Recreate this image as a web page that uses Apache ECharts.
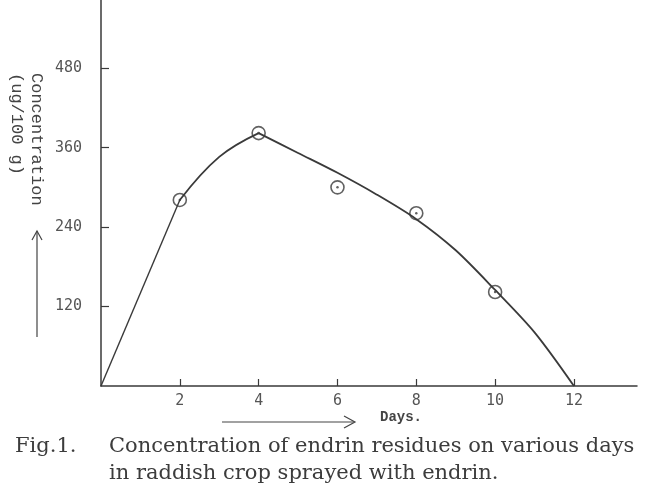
<!DOCTYPE html>
<html>
<head>
<meta charset="utf-8">
<title>Endrin residues in raddish crop</title>
<script src="https://cdn.jsdelivr.net/npm/echarts@6/dist/echarts.min.js"></script>
<style>
  html, body { margin: 0; padding: 0; background: #ffffff; }
  #chart { width: 650px; height: 493px; }
</style>
</head>
<body>
<div id="chart"></div>
<script>
// 观测值（天数, µg/100 g）
const days = [2, 4, 6, 8, 10];
const observed = [281, 382, 300, 261, 142];

// 手绘拟合曲线上读出的点：上升段与下降段
const riseDays = [0, 2];
const riseValues = [0, 281];
const arcDays = [2, 3, 4];
const arcValues = [281, 346, 382];
const fallDays = [4, 5, 6, 7, 8, 9, 10, 11, 12];
const fallValues = [382, 352, 322, 289, 252, 205, 145, 81, 0];

// 坐标轴刻度
const xTicks = [2, 4, 6, 8, 10, 12];
const yTicks = [120, 240, 360, 480];

const ink = '#3a3a3a';
const sansMono = '"DejaVu Sans Mono", monospace';
const typewriter = '"Liberation Mono", "DejaVu Sans Mono", monospace';
const serif = '"DejaVu Serif", "Liberation Serif", serif';

const pairs = (xs, ys) => xs.map((x, i) => [x, ys[i]]);

let chart = echarts.init(document.getElementById('chart'));

let option = {
    backgroundColor: '#ffffff',
    animation: false,
    grid: { left: 101, right: 13, top: 0, bottom: 107 },
    xAxis: {
        type: 'value',
        min: 0,
        max: 13.6,
        interval: 2,
        splitLine: { show: false },
        axisLine: { lineStyle: { color: ink, width: 1.5 } },
        axisTick: { inside: true, length: 7, customValues: xTicks, lineStyle: { color: ink, width: 1.2 } },
        axisLabel: { customValues: xTicks, margin: 8, color: '#555', fontFamily: sansMono, fontSize: 15 }
    },
    yAxis: {
        type: 'value',
        min: 0,
        max: 583,
        interval: 120,
        splitLine: { show: false },
        axisLine: { show: true, lineStyle: { color: ink, width: 1.5 } },
        axisTick: { show: true, inside: true, length: 8, customValues: yTicks, lineStyle: { color: ink, width: 1.2 } },
        axisLabel: { customValues: yTicks, margin: 19, color: '#555', fontFamily: sansMono, fontSize: 15 }
    },
    graphic: [
        // y 轴名称（竖排）
        {
            type: 'text', x: 45, y: 73, rotation: -Math.PI / 2,
            style: { text: 'Concentration', fill: '#444', font: '17px ' + typewriter }
        },
        {
            type: 'text', x: 25, y: 73, rotation: -Math.PI / 2,
            style: { text: '(ug/100 g)', fill: '#444', font: '17px ' + typewriter }
        },
        // 向上箭头
        {
            type: 'polyline',
            shape: { points: [[37, 337], [37, 231]] },
            style: { stroke: '#444', lineWidth: 1.2 }
        },
        {
            type: 'polyline',
            shape: { points: [[32, 240], [37, 231], [42, 240]] },
            style: { stroke: '#444', lineWidth: 1.2, fill: null }
        },
        // x 轴名称与箭头
        {
            type: 'text', x: 380, y: 417,
            style: { text: 'Days.', fill: '#444', font: 'bold 14px ' + typewriter, verticalAlign: 'middle' }
        },
        {
            type: 'polyline',
            shape: { points: [[222, 422], [354, 422]] },
            style: { stroke: '#444', lineWidth: 1.2 }
        },
        {
            type: 'polyline',
            shape: { points: [[344, 416], [355, 422], [344, 428]] },
            style: { stroke: '#444', lineWidth: 1.2, fill: null }
        },
        // 图注
        {
            type: 'text', x: 15, y: 436,
            style: { text: 'Fig.1.', fill: '#3c3c3c', font: '21px ' + serif }
        },
        {
            type: 'text', x: 109, y: 436,
            style: { text: 'Concentration of endrin residues on various days', fill: '#3c3c3c', font: '21px ' + serif }
        },
        {
            type: 'text', x: 109, y: 463,
            style: { text: 'in raddish crop sprayed with endrin.', fill: '#3c3c3c', font: '21px ' + serif }
        }
    ],
    series: [
        {
            name: 'rise',
            type: 'line',
            data: pairs(riseDays, riseValues),
            showSymbol: false,
            lineStyle: { color: ink, width: 1.4 }
        },
        {
            name: 'arc',
            type: 'line',
            data: pairs(arcDays, arcValues),
            smooth: 0.4,
            showSymbol: false,
            lineStyle: { color: ink, width: 1.8 }
        },
        {
            name: 'fall',
            type: 'line',
            data: pairs(fallDays, fallValues),
            smooth: 0.3,
            showSymbol: false,
            lineStyle: { color: ink, width: 1.8 }
        },
        {
            name: 'observed',
            type: 'scatter',
            data: pairs(days, observed),
            symbol: 'circle',
            symbolSize: 13,
            itemStyle: { color: 'transparent', borderColor: ink, borderWidth: 1.6 },
            z: 5
        },
        {
            name: 'centre',
            type: 'scatter',
            data: pairs(days, observed),
            symbol: 'circle',
            symbolSize: 2.5,
            itemStyle: { color: ink },
            z: 6
        }
    ]
};

chart.setOption(option);
</script>
</body>
</html>
